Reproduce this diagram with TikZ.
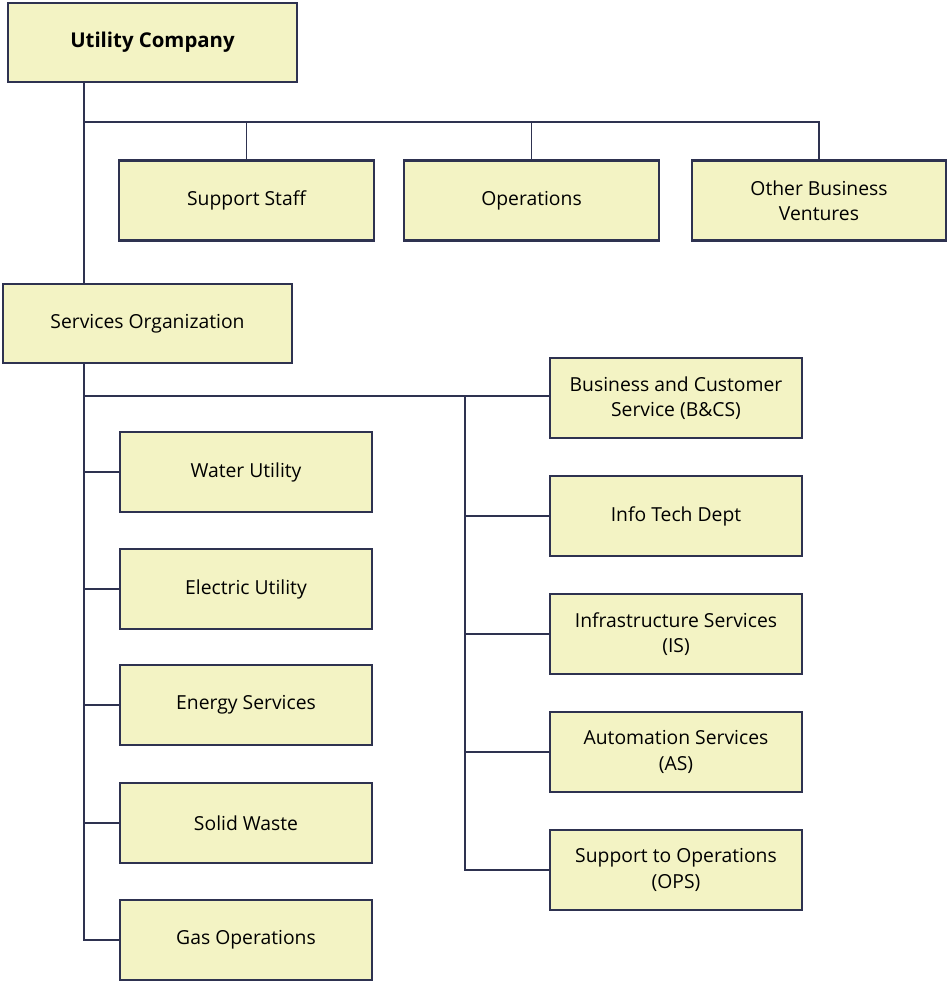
\documentclass[tikz,border=0pt]{standalone}
\usepackage{fontspec}
\setmainfont{Open Sans}
\usepackage{tikz}
\usetikzlibrary{positioning,calc}
\definecolor{boxfill}{HTML}{F3F3C4}
\definecolor{boxline}{HTML}{2E3250}
\tikzset{
 unit/.style={draw=boxline,fill=boxfill,line width=1.2pt,minimum width=5.04cm,minimum height=1.6cm,align=center,inner sep=2pt},
 wire/.style={draw=boxline,line width=1.1pt}
}
\begin{document}
\begin{tikzpicture}[x=.02cm,y=-.02cm,font=\fontsize{11}{14.5}\selectfont]
\useasboundingbox (0,0) rectangle (947,982);
\node[unit,minimum width=5.78cm,minimum height=1.58cm,font=\fontsize{11.6}{14.5}\selectfont\bfseries] (uc) at (152.5,42.5) {Utility Company};
\node[unit,minimum width=5.1cm] (ss) at (246.5,200.5) {Support Staff};
\node[unit,minimum width=5.1cm] (op) at (531.5,200.5) {Operations};
\node[unit,minimum width=5.08cm] (ov) at (819,200.5) {Other Business\\Ventures};
\node[unit,minimum width=5.78cm,minimum height=1.58cm] (so) at (147.5,323.5) {Services Organization};
% left column
\foreach \y/\name/\txt in {472/wu/Water Utility,589/eu/Electric Utility,705/es/Energy Services,823/sw/Solid Waste,940/go/Gas Operations}{
 \node[unit] (\name) at (246,\y) {\txt};
}
% right column
\foreach \y/\name/\txt in {398/bc/{Business and Customer\\Service (B\&CS)},516/it/Info Tech Dept,634/is/{Infrastructure Services\\(IS)},752/as/{Automation Services\\(AS)},870/ops/{Support to Operations\\(OPS)}}{
 \node[unit] (\name) at (676,\y) {\txt};
}
\coordinate (trunk) at (84,122);
\coordinate (bus) at (465,396);
% top level
\draw[wire] (uc.south -| trunk) -- (so.north -| trunk);
\draw[wire] (trunk) -- (trunk -| ov.north) -- (ov.north);
\foreach \n in {ss,op}{
 \draw[wire] (trunk -| \n.north) -- (\n.north);
}
% services organization
\draw[wire] (so.south -| trunk) -- (go.west -| trunk) -- (go.west);
\draw[wire] (bc.west |- bus) -- (bus -| trunk);
\draw[wire] (bus) -- (ops.west -| bus) -- (ops.west);
\foreach \n in {wu,eu,es,sw}{
 \draw[wire] (\n.west -| trunk) -- (\n.west);
}
\foreach \n in {it,is,as}{
 \draw[wire] (\n.west -| bus) -- (\n.west);
}
\end{tikzpicture}
\end{document}
